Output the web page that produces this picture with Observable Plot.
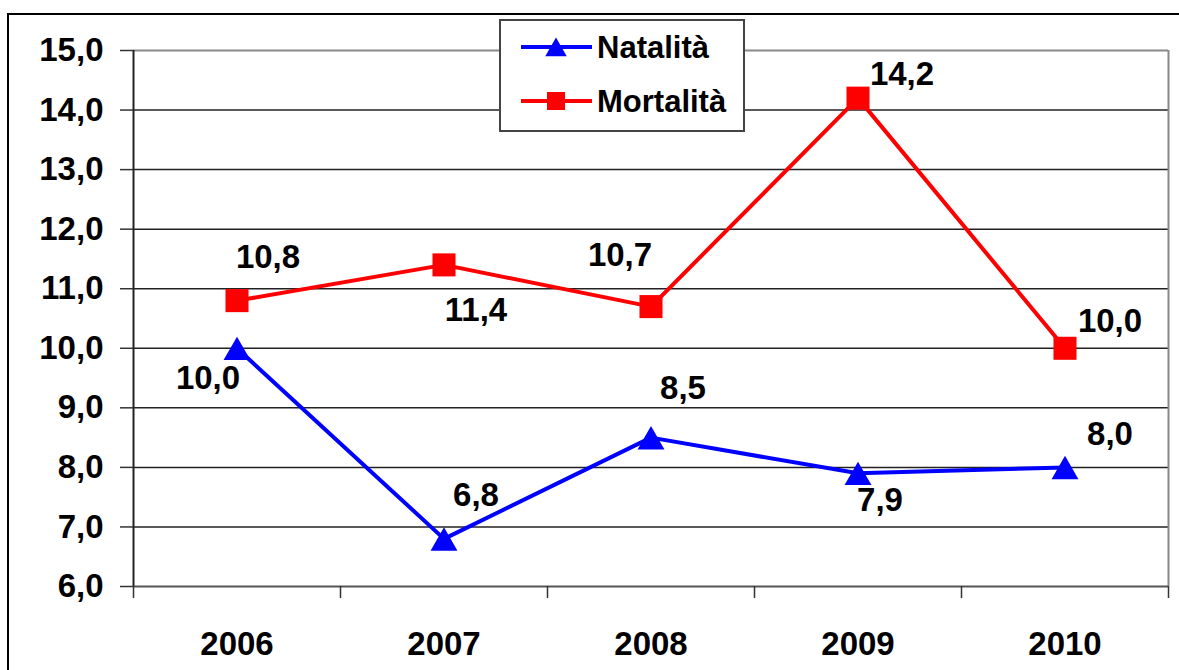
<!DOCTYPE html>
<html><head><meta charset="utf-8">
<script src="https://cdn.jsdelivr.net/npm/d3@7"></script>
<script src="https://cdn.jsdelivr.net/npm/@observablehq/plot@0.6"></script>
<style>
html,body{margin:0;padding:0;background:#fff;overflow:hidden;}
#wrap{position:relative;width:1179px;height:670px;}
#frame{position:absolute;left:7px;top:13px;width:1300px;height:800px;border-left:2px solid #000;border-top:2px solid #000;}
#chart{position:absolute;left:0;top:0;}
#legend{position:absolute;left:499px;top:19px;}
</style></head><body><div id="wrap"><div id="frame"></div><div id="chart"></div></div>
<script>
const years = ["2006", "2007", "2008", "2009", "2010"];
const natalita = [10.0, 6.8, 8.5, 7.9, 8.0];
const mortalita = [10.8, 11.4, 10.7, 14.2, 10.0];
const yTicks = [6, 7, 8, 9, 10, 11, 12, 13, 14, 15];
const seriesNames = ["Natalità", "Mortalità"];

// label offsets (styling)
const natOff = [[-29, 30], [32, -43], [32, -49], [22, 27], [45, -33]];
const morOff = [[31, -43], [32, 46], [-31, -51], [44, -24], [45, -27]];

const fmt = d => d.toFixed(1).replace(".", ",");
const natRows = natalita.map((v, i) => ({i, v}));
const morRows = mortalita.map((v, i) => ({i, v}));
const FONT = '"Liberation Sans", Arial, sans-serif';
const boundaries = d3.range(-0.5, years.length, 1);

const labelMarks = (rows, offs) => rows.map((r, k) => Plot.text([r], {
  x: "i", y: "v", text: d => fmt(d.v), dx: offs[k][0], dy: offs[k][1],
  fontSize: 33, fontWeight: "bold", fill: "#000", textAnchor: "middle"
}));

const chart = Plot.plot({
  width: 1179, height: 670,
  marginLeft: 133, marginRight: 11, marginTop: 50, marginBottom: 84,
  style: {fontFamily: FONT, fontSize: "33px", fontWeight: "bold", background: "transparent", color: "#000"},
  x: {type: "linear", domain: [-0.5, years.length - 0.5]},
  y: {domain: [6, 15]},
  marks: [
    Plot.ruleY(yTicks.slice(1, -1), {stroke: "#222", strokeWidth: 1.5}),
    Plot.ruleY([15], {stroke: "#888", strokeWidth: 2}),
    Plot.ruleX([years.length - 0.5], {stroke: "#888", strokeWidth: 2}),
    Plot.ruleY([6], {stroke: "#555", strokeWidth: 2}),
    Plot.ruleX([-0.5], {stroke: "#222", strokeWidth: 2}),
    Plot.axisY({ticks: yTicks, tickFormat: fmt, tickSize: 13, tickPadding: 17,
      fontSize: 33, fontWeight: "bold", stroke: "#333", strokeWidth: 1.5, label: null}),
    Plot.axisX({ticks: boundaries, tickFormat: () => "", tickSize: 12, stroke: "#333", strokeWidth: 1.5, label: null}),
    Plot.axisX({ticks: d3.range(years.length), tickFormat: i => years[i], tickSize: 0, tickPadding: 45,
      fontSize: 33, fontWeight: "bold", label: null}),
    Plot.line(morRows, {x: "i", y: "v", stroke: "#ff0000", strokeWidth: 4}),
    Plot.line(natRows, {x: "i", y: "v", stroke: "#0000ff", strokeWidth: 4}),
    Plot.dot(morRows, {x: "i", y: "v", symbol: "square", r: 13, fill: "#ff0000", stroke: "none"}),
    Plot.dot(natRows, {x: "i", y: "v", symbol: "triangle", r: 10, fill: "#0000ff", stroke: "none", dy: 4}),
    ...labelMarks(morRows, morOff),
    ...labelMarks(natRows, natOff)
  ]
});
document.getElementById("chart").appendChild(chart);

// legend
const lg = d3.select("#wrap").append("svg").attr("id", "legend").attr("width", 247).attr("height", 114);
lg.append("rect").attr("x", 1).attr("y", 1).attr("width", 244).attr("height", 111)
  .attr("fill", "#fff").attr("stroke", "#444").attr("stroke-width", 2);
const items = [
  {name: seriesNames[0], color: "#0000ff", sym: d3.symbolTriangle, size: 200, y: 28, dy: 3},
  {name: seriesNames[1], color: "#ff0000", sym: d3.symbolSquare, size: 324, y: 82, dy: 0}
];
items.forEach(it => {
  lg.append("line").attr("x1", 22).attr("x2", 93).attr("y1", it.y).attr("y2", it.y)
    .attr("stroke", it.color).attr("stroke-width", 4);
  lg.append("path").attr("d", d3.symbol(it.sym, it.size)()).attr("transform", `translate(57,${it.y + it.dy})`).attr("fill", it.color);
  lg.append("text").attr("x", 98).attr("y", it.y).attr("dy", "0.35em")
    .attr("font-family", FONT).attr("font-weight", "bold").attr("font-size", 31).attr("fill", "#000")
    .text(it.name);
});
</script>
</body></html>
